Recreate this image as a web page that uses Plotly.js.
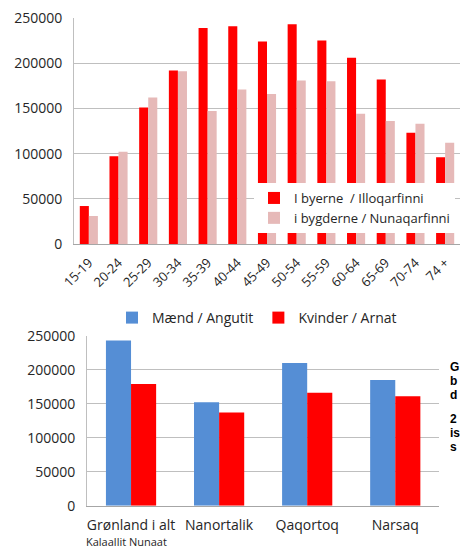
<!DOCTYPE html>
<html>
<head>
<meta charset="utf-8">
<script src="https://cdn.plot.ly/plotly-3.0.1.min.js"></script>
<style>html,body{margin:0;padding:0;background:#fff;}#chart{width:460px;height:548px;}</style>
</head>
<body>
<div id="chart"></div>
<script>
// Top chart: age groups
var ageGroups = ["15-19","20-24","25-29","30-34","35-39","40-44","45-49","50-54","55-59","60-64","65-69","70-74","74 +"];
var byerne =   [42000, 97000, 151000, 192000, 239000, 241000, 224000, 243000, 225000, 206000, 182000, 123000, 96000];
var bygderne = [31000, 102000, 162000, 191000, 147000, 171000, 166000, 181000, 180000, 144000, 136000, 133000, 112000];
var seriesTop = ["I byerne  / Illoqarfinni", "i bygderne / Nunaqarfinni"];

// Bottom chart: places
var places = ["Grønland i alt", "Nanortalik", "Qaqortoq", "Narsaq"];
var maend =   [243000, 152000, 210000, 185000];
var kvinder = [179000, 137000, 166000, 161000];
var seriesBottom = ["Mænd / Angutit", "Kvinder / Arnat"];
var yTicks = [0, 50000, 100000, 150000, 200000, 250000];

// Cut-off side text lines
var sideLines = ["G", "b", "d", "2", "is", "s"];
var sideY = [367, 381, 395, 419, 433, 447];

var W = 460, H = 548;
var font = "Open Sans, Liberation Sans, sans-serif";
var txt = "#262626";
function py(p){ return 1 - p / H; }
function px(p){ return p / W; }

var traces = [
  {type:"bar", x:ageGroups, y:byerne, name:seriesTop[0], marker:{color:"#ff0000"}, xaxis:"x", yaxis:"y", legend:"legend"},
  {type:"bar", x:ageGroups, y:bygderne, name:seriesTop[1], marker:{color:"#e6b9b8"}, xaxis:"x", yaxis:"y", legend:"legend"},
  {type:"bar", x:places, y:maend, name:seriesBottom[0], marker:{color:"#558ed5"}, xaxis:"x2", yaxis:"y2", legend:"legend2",
   width:0.285, offset:-0.285},
  {type:"bar", x:places, y:kvinder, name:seriesBottom[1], marker:{color:"#ff0000"}, xaxis:"x2", yaxis:"y2", legend:"legend2",
   width:0.285, offset:0}
];

var yCommon = {
  range:[0,250000], tickvals:yTicks, tickformat:"d",
  showgrid:true, gridcolor:"#bfbfbf", gridwidth:1,
  showline:true, linecolor:"#bfbfbf", linewidth:1,
  zeroline:false, ticks:"", ticklabelstandoff:8,
  tickfont:{family:font, size:14, color:txt}, fixedrange:true
};

var annotations = [
  {xref:"paper", yref:"paper", x:px(84), y:py(541), xanchor:"left", yanchor:"middle",
   text:"Kalaallit Nunaat", showarrow:false, font:{family:font, size:11, color:txt}}
];
sideLines.forEach(function(s, i){
  annotations.push({xref:"paper", yref:"paper", x:px(448), y:py(sideY[i]), xanchor:"left", yanchor:"middle",
    text:"<b>" + s + "</b>", showarrow:false, font:{family:"Liberation Sans, Arial, sans-serif", size:12, color:"#000"}});
});

var layout = {
  width:W, height:H,
  margin:{l:0, r:0, t:0, b:0},
  paper_bgcolor:"#fff", plot_bgcolor:"#fff",
  barmode:"group",
  showlegend:true,
  xaxis:{domain:[px(74),1], anchor:"y", type:"category",
    showline:true, linecolor:"#a6a6a6", linewidth:1, ticks:"", ticklabelstandoff:5,
    tickangle:-45, tickfont:{family:font, size:13, color:txt}, automargin:false},
  yaxis:Object.assign({}, yCommon, {domain:[py(244), py(18)], anchor:"x"}),
  xaxis2:{domain:[px(87), px(439.3)], anchor:"y2", type:"category",
    showline:true, linecolor:"#a6a6a6", linewidth:1, ticks:"", ticklabelstandoff:6,
    tickangle:0, tickfont:{family:font, size:14, color:txt}, automargin:false},
  yaxis2:Object.assign({}, yCommon, {domain:[py(505.7), py(335.7)], anchor:"x2"}),
  bargap:0.39,
  legend:{x:px(254), y:py(183), xanchor:"left", yanchor:"top", bgcolor:"#ffffff",
    orientation:"v", font:{family:font, size:13, color:txt}, tracegroupgap:4, itemwidth:30},
  legend2:{x:px(112), y:py(318), xanchor:"left", yanchor:"middle", bgcolor:"rgba(0,0,0,0)",
    orientation:"h", font:{family:font, size:14, color:txt}, itemwidth:30},
  annotations:annotations
};

Plotly.newPlot("chart", traces, layout, {displayModeBar:false, staticPlot:true});
</script>
</body>
</html>
